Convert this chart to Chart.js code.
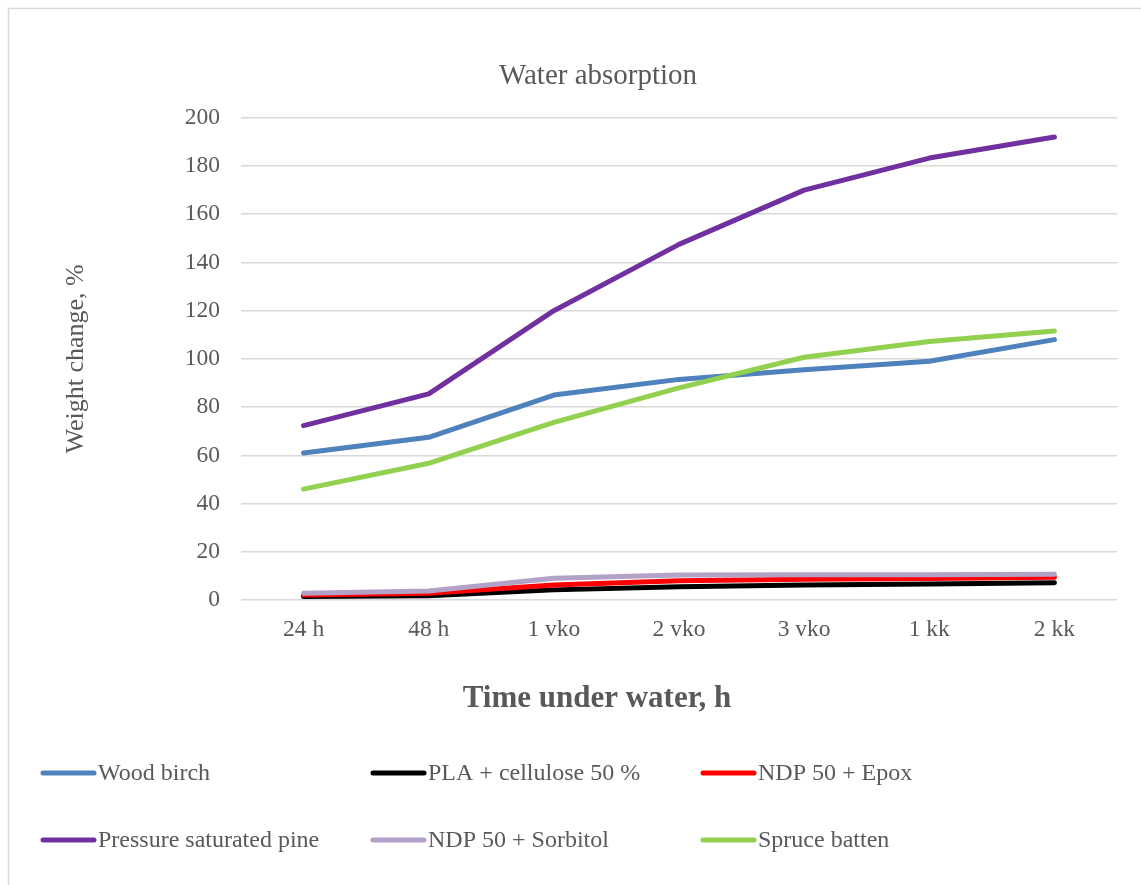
<!DOCTYPE html>
<html>
<head>
<meta charset="utf-8">
<script src="https://cdn.jsdelivr.net/npm/chart.js@4/dist/chart.umd.min.js"></script>
<style>
  html, body { margin: 0; padding: 0; background: #ffffff; }
  #wrap { width: 1141px; height: 885px; position: relative; }
</style>
</head>
<body>
<div id="wrap"><canvas id="c" width="1141" height="885"></canvas></div>
<script>
// ---- Data ----
const categories = ['24 h', '48 h', '1 vko', '2 vko', '3 vko', '1 kk', '2 kk'];
const woodBirch = [61, 67.5, 85, 91.5, 95.5, 99, 108];
const plaCellulose = [1.4, 1.8, 4.2, 5.5, 6.2, 6.6, 7.2];
const ndpEpox = [2.1, 2.8, 6.2, 8.0, 8.6, 8.9, 9.4];
const pine = [72.3, 85.5, 120, 147.5, 170, 183.3, 192];
const ndpSorbitol = [2.8, 3.7, 9.0, 10.4, 10.5, 10.5, 10.7];
const spruce = [46, 56.7, 73.7, 88, 100.7, 107.2, 111.6];
const seriesNames = ['Wood birch', 'PLA + cellulose 50 %', 'NDP 50 + Epox',
                     'Pressure saturated pine', 'NDP 50 + Sorbitol', 'Spruce batten'];
const yTicks = [0, 20, 40, 60, 80, 100, 120, 140, 160, 180, 200];

const seriesValues = [woodBirch, plaCellulose, ndpEpox, pine, ndpSorbitol, spruce];
const seriesColors = ['#4f81bd', '#000000', '#ff0000', '#7030a0', '#b3a2c7', '#92d050'];

const FONT = "'Liberation Serif', 'Times New Roman', serif";
const TXT = '#595959';

const datasets = seriesValues.map((vals, i) => ({
  label: seriesNames[i],
  data: vals,
  borderColor: seriesColors[i],
  backgroundColor: seriesColors[i],
  borderWidth: 5,
  pointRadius: 0,
  pointHoverRadius: 0,
  tension: 0,
  fill: false,
  borderCapStyle: 'round',
  borderJoinStyle: 'round',
  order: seriesValues.length - i
}));

// custom plugin: frame, x-axis title and legend in fixed columns
const decor = {
  id: 'decor',
  beforeDraw(chart) {
    const ctx = chart.ctx;
    ctx.save();
    ctx.strokeStyle = '#d9d9d9';
    ctx.lineWidth = 1.5;
    ctx.beginPath();
    ctx.moveTo(8.5, 885);
    ctx.lineTo(8.5, 8.5);
    ctx.lineTo(1141, 8.5);
    ctx.stroke();
    ctx.restore();
  },
  afterDraw(chart) {
    const ctx = chart.ctx;
    ctx.save();
    // x axis title
    ctx.fillStyle = TXT;
    ctx.font = "bold 31px " + FONT;
    ctx.textAlign = 'center';
    ctx.textBaseline = 'middle';
    ctx.fillText('Time under water, h', 597, 699);
    // legend
    const colX = [40, 370, 700];
    const rowY = [773, 840];
    ctx.font = "24px " + FONT;
    ctx.textAlign = 'left';
    chart.data.datasets.forEach((ds, i) => {
      const x = colX[i % 3];
      const y = rowY[Math.floor(i / 3)];
      ctx.strokeStyle = ds.borderColor;
      ctx.lineWidth = 5;
      ctx.lineCap = 'round';
      ctx.beginPath();
      ctx.moveTo(x + 3, y);
      ctx.lineTo(x + 54, y);
      ctx.stroke();
      ctx.fillStyle = TXT;
      ctx.fillText(ds.label, x + 58, y + 1);
    });
    ctx.restore();
  }
};

new Chart(document.getElementById('c'), {
  type: 'line',
  data: { labels: categories, datasets },
  plugins: [decor],
  options: {
    responsive: false,
    animation: false,
    devicePixelRatio: 1,
    layout: { padding: { left: 79, right: 24, top: 0, bottom: 0 } },
    plugins: {
      legend: { display: false },
      tooltip: { enabled: false },
      title: {
        display: true,
        text: 'Water absorption',
        color: TXT,
        font: { family: FONT, size: 29, weight: 'normal' },
        padding: { top: 59, bottom: 24 }
      }
    },
    scales: {
      x: {
        offset: true,
        grid: { display: false, drawTicks: false },
        border: { display: false },
        ticks: { color: TXT, font: { family: FONT, size: 23.5 }, padding: 16, maxRotation: 0 },
        afterFit(scale) { scale.height = 285; }
      },
      y: {
        min: 0,
        max: 200,
        afterBuildTicks(scale) { scale.ticks = yTicks.map(v => ({ value: v })); },
        grid: { color: '#d9d9d9', lineWidth: 1.5, drawTicks: false },
        border: { display: false },
        ticks: { color: TXT, font: { family: FONT, size: 23.5 }, padding: 21 },
        title: {
          display: true,
          text: 'Weight change, %',
          color: TXT,
          font: { family: FONT, size: 26, weight: 'normal' },
          padding: { top: -18, bottom: 0 }
        },
        afterFit(scale) { scale.width = 162; }
      }
    }
  }
});
</script>
</body>
</html>
